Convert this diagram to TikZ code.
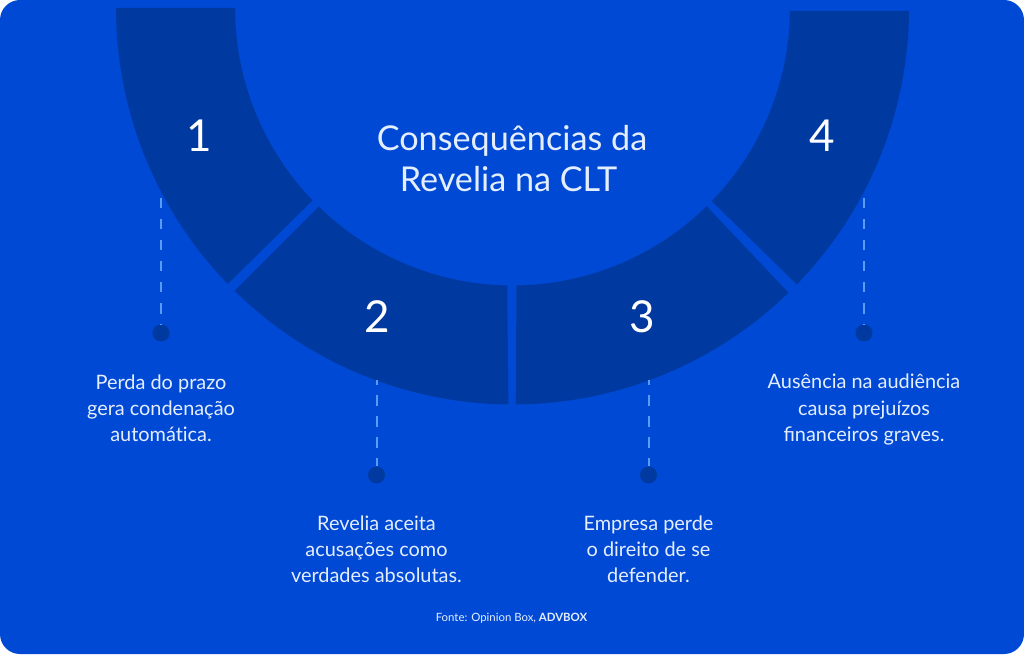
\documentclass[tikz,border=0pt]{standalone}
\usepackage{fontspec}
\setmainfont{Lato}
\usepackage{xcolor}
\usepackage{tikz}
\definecolor{panelblue}{HTML}{0049D4}
\definecolor{ringblue}{HTML}{00399F}
\definecolor{dashblue}{HTML}{5A9BF8}
\definecolor{textblue}{HTML}{E4EEFF}
\tikzset{
    ringpart/.style={fill=ringblue, draw=none},
    stepnum/.style={text=white, font=\fontsize{44}{44}\selectfont, inner sep=0pt},
    titletext/.style={text=textblue, align=center, inner sep=0pt, font=\fontsize{34.2}{41}\selectfont},
    bodytext/.style={text=textblue, align=center, inner sep=0pt, font=\fontsize{19.9}{26.2}\selectfont},
    sourcetext/.style={text=textblue, inner sep=0pt, font=\fontsize{11.4}{14}\selectfont},
    enddot/.style={circle, fill=ringblue, minimum size=17pt, inner sep=0pt},
    leader/.style={draw=dashblue, line width=2pt, dash pattern=on 10.5pt off 10.5pt}
}
\begin{document}
\begin{tikzpicture}[x=1pt, y=1pt]
    % Parameters
    \def\rOut{396.5}
    \def\rIn{277.5}

    \useasboundingbox (0,0) rectangle (1024,654);
    \fill[white] (0,0) rectangle (1024,654);
    \fill[panelblue, rounded corners=20pt] (0,0) rectangle (1024,654);

    % Ring parts
    \begin{scope}[shift={(512.5,646)}]
        \fill[ringpart] (180:\rOut) arc (180:224.1:\rOut) -- (223.9:\rIn) arc (223.9:180:\rIn) -- cycle;
        \fill[ringpart] (225.5:\rOut) arc (225.5:269.4:\rOut) -- (268.9:\rIn) arc (268.9:225.7:\rIn) -- cycle;
        \fill[ringpart] (270.5:\rOut) arc (270.5:314.1:\rOut) -- (314.4:\rIn) arc (314.4:270.8:\rIn) -- cycle;
        \fill[ringpart] (315.8:\rOut) arc (315.8:359.6:\rOut) -- (359.4:\rIn) arc (359.4:315.9:\rIn) -- cycle;
    \end{scope}

    % Numbers and title
    \node[stepnum] (N1) at (199,518) {1};
    \node[stepnum] (N2) at (377,337) {2};
    \node[stepnum] (N3) at (642,337) {3};
    \node[stepnum] (N4) at (822.5,518) {4};
    \node[titletext] (T) at (512,495) {Consequências da\\Revelia na CLT\hspace*{7pt}};

    % Dots with their dashed leaders
    \node[enddot] (D1) at (161,321) {};
    \node[enddot] (D2) at (376.5,179) {};
    \node[enddot] (D3) at (648.5,179) {};
    \node[enddot] (D4) at (864,321) {};
    \coordinate (C1) at (161,456);
    \coordinate (C2) at (376.5,274);
    \coordinate (C3) at (648.5,274);
    \coordinate (C4) at (864,456);
    \draw[leader] (C1) -- (D1);
    \draw[leader, dash phase=6pt] (C2) -- (D2);
    \draw[leader, dash phase=6pt] (C3) -- (D3);
    \draw[leader] (C4) -- (D4);

    % Texts
    \node[bodytext] (L1) at (161,246) {Perda do prazo\\gera condenação\\automát\kern0pt ica.};
    \node[bodytext] (L2) at (376.5,105) {Revelia aceita\\acusações como\\verdades absolutas.};
    \node[bodytext] (L3) at (648.5,105) {Empresa perde\\o direito de se\\defender.};
    \node[bodytext] (L4) at (864,244.5) {Ausência na audiência\\causa prejuízos\\financeiros graves.};
    \node[sourcetext] (S) at (511.5,35.5) {Fonte: Opinion Box, \textbf{ADVBOX}};
\end{tikzpicture}
\end{document}
